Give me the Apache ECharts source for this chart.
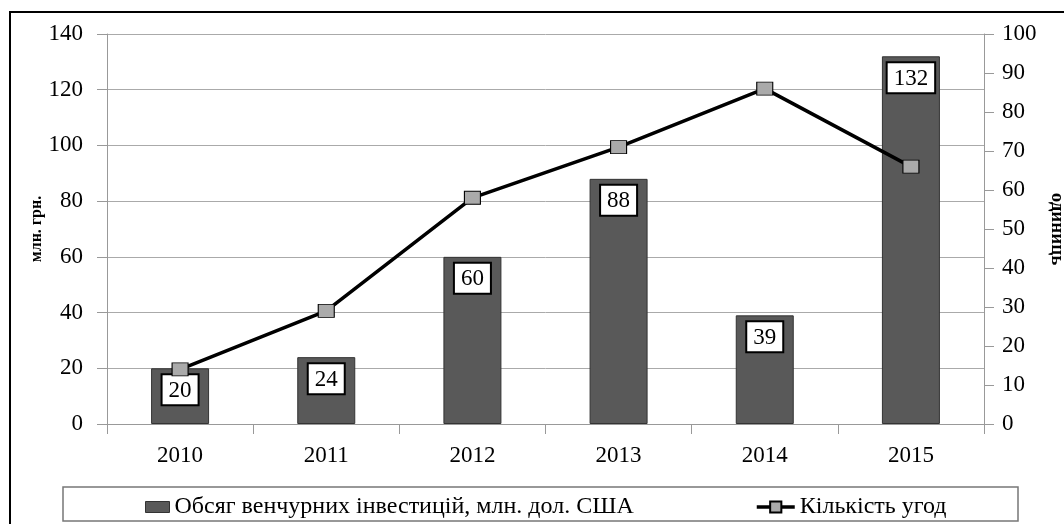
<!DOCTYPE html>
<html><head><meta charset="utf-8">
<script src="https://cdn.jsdelivr.net/npm/echarts@6/dist/echarts.min.js"></script>
<style>html,body{margin:0;padding:0;background:#fff}#c{width:1064px;height:524px}</style>
</head><body><div id="c"></div>
<script>
const years = ['2010','2011','2012','2013','2014','2015'];
const investments = [20, 24, 60, 88, 39, 132];
const deals = [14, 29, 58, 71, 86, 66];
const leftTicks = {min: 0, max: 140, interval: 20};
const rightTicks = {min: 0, max: 100, interval: 10};
const seriesNames = ['Обсяг венчурних інвестицій, млн. дол. США', 'Кількість угод'];
const axisNames = ['млн. грн.', 'одиниць'];

const FONT = '"Liberation Serif", "DejaVu Serif", serif';
const chart = echarts.init(document.getElementById('c'), null, {renderer: 'canvas'});
chart.setOption({
  animation: false,
  backgroundColor: '#fff',
  textStyle: {fontFamily: FONT},
  graphic: [
    {type: 'rect', shape: {x: 10, y: 12, width: 1080, height: 540}, style: {fill: 'none', stroke: '#000', lineWidth: 2}, z: 100},
    {type: 'rect', shape: {x: 63, y: 487, width: 955, height: 34}, style: {fill: 'none', stroke: '#777', lineWidth: 1.5}, z: 100}
  ],
  grid: {left: 107, right: 80, top: 34, bottom: 100, containLabel: false, outerBoundsMode: 'none'},
  legend: [
    {
      left: 140, top: 490, itemWidth: 24, itemHeight: 11, itemGap: 4,
      textStyle: {fontFamily: FONT, fontSize: 24, color: '#000'},
      data: [{name: seriesNames[0], icon: 'rect', itemStyle: {color: '#595959', borderColor: '#333', borderWidth: 1}}]
    },
    {
      left: 750, top: 490, itemWidth: 38, itemHeight: 14, itemGap: 4,
      textStyle: {fontFamily: FONT, fontSize: 24, color: '#000'},
      data: [{name: seriesNames[1], lineStyle: {color: '#000', width: 3.5}}]
    }
  ],
  xAxis: {
    type: 'category', data: years,
    axisLine: {lineStyle: {color: '#999'}},
    axisTick: {show: true, length: 10, lineStyle: {color: '#999'}},
    axisLabel: {fontFamily: FONT, fontSize: 23, color: '#000', margin: 20}
  },
  yAxis: [
    {
      type: 'value', min: leftTicks.min, max: leftTicks.max, interval: leftTicks.interval,
      name: axisNames[0], nameLocation: 'middle', nameGap: 62, nameRotate: 90, nameMoveOverlap: false,
      nameTextStyle: {fontFamily: FONT, fontSize: 16, fontWeight: 'bold', color: '#000'},
      axisLine: {show: true, lineStyle: {color: '#999'}},
      axisTick: {show: true, length: 10, lineStyle: {color: '#999'}},
      axisLabel: {fontFamily: FONT, fontSize: 23, color: '#000', margin: 24},
      splitLine: {show: true, lineStyle: {color: '#aaa', width: 1}}
    },
    {
      type: 'value', min: rightTicks.min, max: rightTicks.max, interval: rightTicks.interval,
      name: axisNames[1], nameLocation: 'middle', nameGap: 63, nameRotate: -90, nameMoveOverlap: false,
      nameTextStyle: {fontFamily: FONT, fontSize: 19, fontWeight: 'bold', color: '#000'},
      axisLine: {show: true, lineStyle: {color: '#999'}},
      axisTick: {show: true, length: 10, lineStyle: {color: '#999'}},
      axisLabel: {fontFamily: FONT, fontSize: 23, color: '#000', margin: 18},
      splitLine: {show: false}
    }
  ],
  series: [
    {
      name: seriesNames[0], type: 'bar', data: investments, barWidth: 58, yAxisIndex: 0,
      itemStyle: {color: '#595959', borderColor: '#333', borderWidth: 1},
      label: {
        show: true, position: 'insideTop', distance: 7,
        fontFamily: FONT, fontSize: 23, color: '#000',
        backgroundColor: '#fff', borderColor: '#000', borderWidth: 2,
        padding: [4, 6, 2, 6]
      },
      z: 2
    },
    {
      name: seriesNames[1], type: 'line', data: deals, yAxisIndex: 1,
      lineStyle: {color: '#000', width: 3.5},
      symbol: 'rect', symbolSize: [16, 13],
      itemStyle: {color: '#aaa', borderColor: '#000', borderWidth: 1},
      z: 5
    }
  ]
});
</script></body></html>
